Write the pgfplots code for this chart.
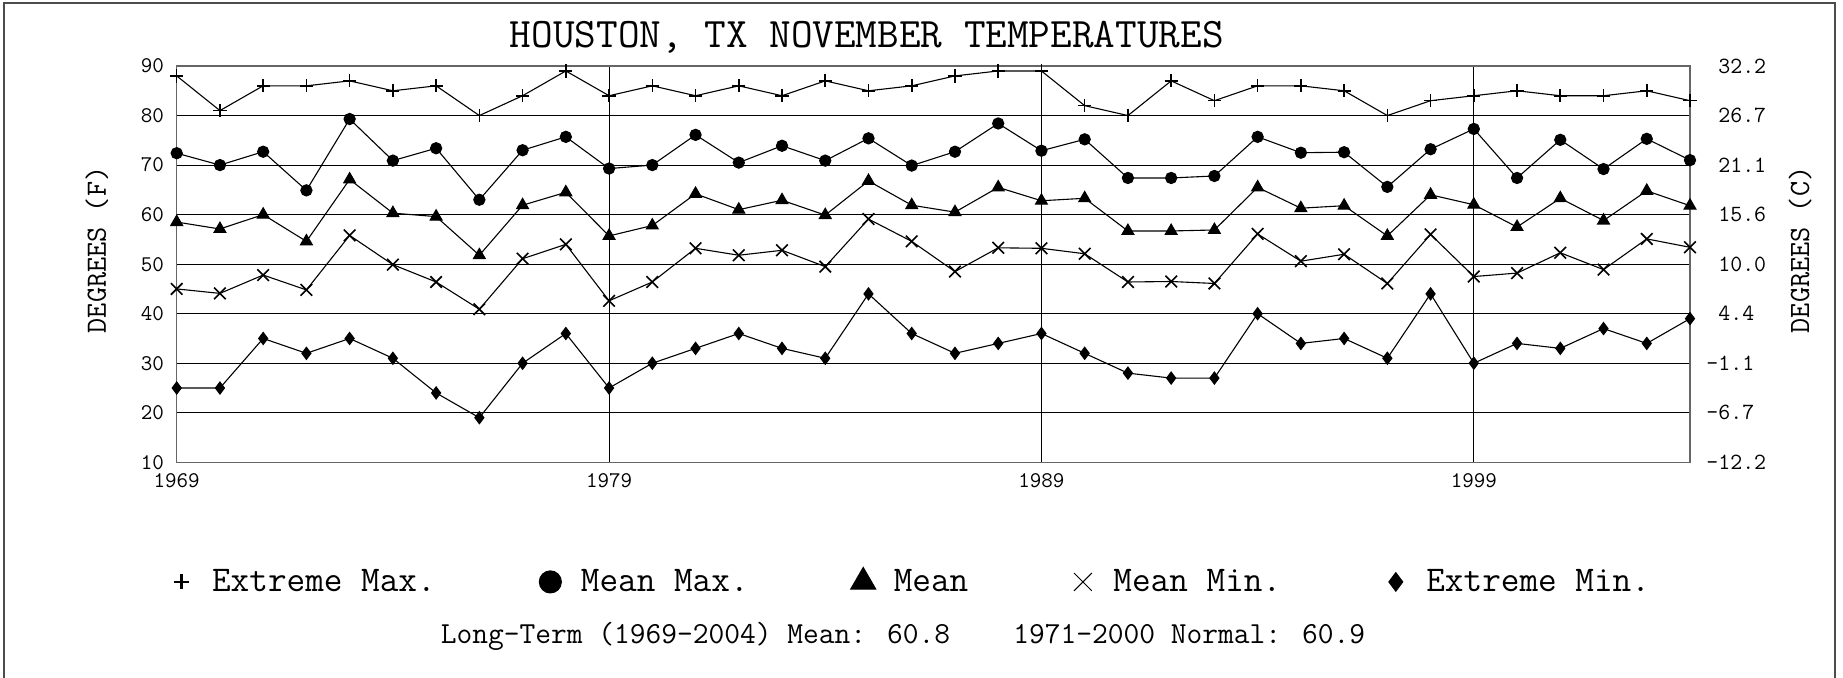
\documentclass[border=0pt]{standalone}
\usepackage{fontspec}
\usepackage{pgfplots}
\usepackage{pgfplotstable}
\pgfplotsset{compat=1.18}

\pgfplotstableread{
year emax mmax mean mmin emin
1969 88 72.4 58.5 45.0 25
1970 81 70.0 57.1 44.1 25
1971 86 72.7 60.0 47.8 35
1972 86 64.9 54.6 44.8 32
1973 87 79.3 67.1 55.8 35
1974 85 70.9 60.3 49.9 31
1975 86 73.4 59.6 46.4 24
1976 80 63.0 51.8 40.9 19
1977 84 73.0 61.9 51.1 30
1978 89 75.7 64.5 54.0 36
1979 84 69.3 55.7 42.6 25
1980 86 70.0 57.8 46.4 30
1981 84 76.1 64.2 53.2 33
1982 86 70.5 61.0 51.8 36
1983 84 73.9 62.9 52.8 33
1984 87 70.9 59.9 49.5 31
1985 85 75.4 66.8 59.1 44
1986 86 69.9 61.9 54.6 36
1987 88 72.7 60.5 48.5 32
1988 89 78.4 65.5 53.3 34
1989 89 72.9 62.8 53.2 36
1990 82 75.2 63.3 52.1 32
1991 80 67.4 56.7 46.4 28
1992 87 67.4 56.7 46.5 27
1993 83 67.8 56.9 46.1 27
1994 86 75.7 65.5 56.1 40
1995 86 72.5 61.3 50.6 34
1996 85 72.6 61.8 52.0 35
1997 80 65.6 55.7 46.1 31
1998 83 73.2 64.0 56.0 44
1999 84 77.3 62.0 47.5 30
2000 85 67.4 57.5 48.2 34
2001 84 75.1 63.3 52.3 33
2002 84 69.2 58.8 48.9 37
2003 85 75.3 64.8 55.1 34
2004 83 71.0 61.8 53.4 39
}\datatable

\begin{document}
\begin{tikzpicture}
\useasboundingbox (0pt,0pt) rectangle (921.5pt,338.5pt);
\draw[line width=1pt, black!70] (2pt,-2pt) -- (2pt,337.2pt) -- (917.5pt,337.2pt) -- (917.5pt,-2pt);

\begin{axis}[
  at={(88.35pt,107.35pt)}, anchor=south west,
  scale only axis, width=756.65pt, height=198.15pt,
  xmin=1969, xmax=2004, ymin=10, ymax=90,
  xtick={1969,1979,1989,1999}, xticklabels={1969,1979,1989,1999},
  ytick={10,20,30,40,50,60,70,80,90},
  yticklabels={10,20,30,40,50,60,70,80,90},
  major tick length=0pt,
  xmajorgrids, ymajorgrids,
  grid style={black, line width=0.55pt},
  axis line style={draw=black!60, line width=0.7pt},
  tick label style={font=\ttfamily\fontsize{11.2pt}{11.2pt}\selectfont, inner sep=0pt},
  yticklabel style={anchor=east, xshift=-6.2pt},
  xticklabel style={anchor=north, yshift=-5.6pt},
  ylabel={DEGREES (F)},
  ylabel style={at={(axis description cs:-0.0527,0.536)}, anchor=center, font=\ttfamily\fontsize{14.7pt}{14.7pt}\selectfont},
  title={HOUSTON, TX NOVEMBER TEMPERATURES},
  title style={at={(axis description cs:0.456,1.0164)}, anchor=base, font=\ttfamily\fontsize{21pt}{21pt}\selectfont},
  legend columns=5,
  legend style={at={(axis description cs:-0.00509,-0.2995)}, anchor=west, draw=none, fill=none,
    inner sep=0pt, outer sep=0pt, font=\ttfamily\fontsize{18.1pt}{18.1pt}\selectfont,
    nodes={inner sep=0pt},
    /tikz/every odd column/.append style={column sep=9pt},
    /tikz/every even column/.append style={column sep=51pt}},
  legend image code/.code={\path (-6pt,0pt) (6pt,0pt); \draw[#1] plot coordinates {(0pt,0pt)};},
]
\addplot[black, line width=0.55pt, mark=+, mark size=3.3pt, mark options={line width=0.8pt},
  legend image post style={mark size=3.75pt, mark options={line width=1.4pt}}]
  table[x=year,y=emax]{\datatable};
\addlegendentry{Extreme Max.}
\addplot[black, line width=0.55pt, mark=*, mark size=2.8pt,
  legend image post style={mark size=5.5pt}]
  table[x=year,y=mmax]{\datatable};
\addlegendentry{Mean Max.}
\addplot[black, line width=0.55pt, mark=triangle*, mark size=3.4pt,
  legend image post style={mark size=7.2pt}]
  table[x=year,y=mean]{\datatable};
\addlegendentry{Mean}
\addplot[black, line width=0.55pt, mark=x, mark size=4.1pt, mark options={line width=0.8pt},
  legend image post style={mark size=6.3pt, mark options={line width=0.5pt}}]
  table[x=year,y=mmin]{\datatable};
\addlegendentry{Mean Min.}
\addplot[black, line width=0.55pt, mark=diamond*, mark size=3pt,
  legend image post style={mark size=4.6pt}]
  table[x=year,y=emin]{\datatable};
\addlegendentry{Extreme Min.}
\end{axis}

\begin{axis}[
  at={(88.35pt,107.35pt)}, anchor=south west,
  scale only axis, width=756.65pt, height=198.15pt,
  xmin=1969, xmax=2004, ymin=10, ymax=90,
  axis x line=none, axis y line*=right,
  y axis line style={draw=none},
  ytick={10,20,30,40,50,60,70,80,90},
  yticklabels={{-12.2},{-6.7},{-1.1},{\phantom{-}4.4},{\phantom{-}10.0},{\phantom{-}15.6},{\phantom{-}21.1},{\phantom{-}26.7},{\phantom{-}32.2}},
  major tick length=0pt,
  tick label style={font=\ttfamily\fontsize{11.6pt}{11.6pt}\selectfont, inner sep=0pt},
  yticklabel style={anchor=west, xshift=8pt},
  ylabel={DEGREES (C)},
  ylabel style={at={(axis description cs:1.0727,0.536)}, anchor=center, font=\ttfamily\fontsize{14.7pt}{14.7pt}\selectfont},
]
\end{axis}

\node[anchor=base, font=\ttfamily\fontsize{15.3pt}{15.3pt}\selectfont, inner sep=0pt] at (451.5pt,17pt)
  {Long-Term (1969-2004) Mean: 60.8\ \ \ \ 1971-2000 Normal: 60.9};
\end{tikzpicture}
\end{document}
